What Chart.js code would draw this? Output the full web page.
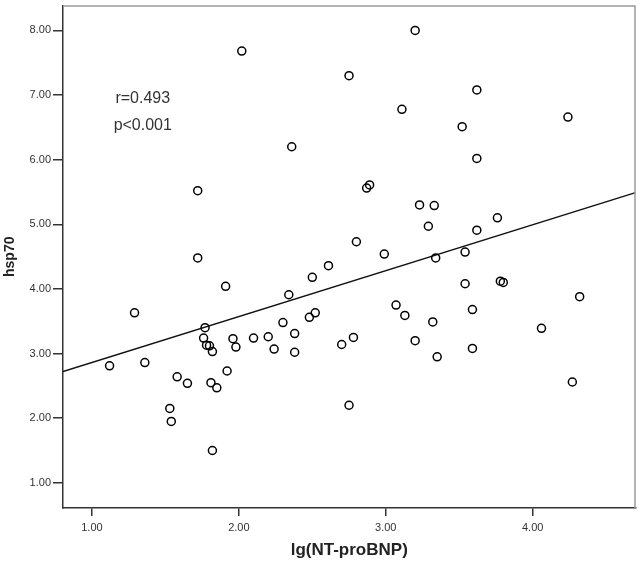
<!DOCTYPE html>
<html>
<head>
<meta charset="utf-8">
<script src="https://cdn.jsdelivr.net/npm/chart.js@4/dist/chart.umd.min.js"></script>
<style>
  body { margin: 0; background: #fff; }
</style>
</head>
<body>
<canvas id="scatter" width="641" height="566"></canvas>
<script>
// Datos
const ntProBnp = [2.02,2.36,1.72,1.72,2.50,3.20,2.75,3.62,3.11,4.24,3.52,3.62,2.87,2.89,3.23,3.33,3.29,3.76,2.80,3.62,
  2.99,3.34,3.54,2.61,3.54,3.78,3.80,2.52,4.32,3.07,3.13,3.59,3.32,4.06,2.78,2.70,3.20,3.59,3.35,4.27,
  2.75,1.29,1.12,1.36,1.91,1.77,1.76,1.78,1.80,1.82,1.96,1.98,2.10,2.20,2.24,2.30,2.34,2.38,2.38,2.48,
  1.58,1.65,1.92,1.81,1.85,1.53,1.54,1.82];
const hsp70 = [7.68,6.20,5.52,4.48,4.18,8.00,7.30,7.08,6.78,6.66,6.51,6.02,5.56,5.61,5.30,5.29,4.97,5.10,4.73,4.91,
  4.54,4.48,4.57,4.36,4.08,4.12,4.10,3.63,3.88,3.75,3.59,3.68,3.49,3.39,3.25,3.14,3.20,3.08,2.95,2.56,
  2.20,3.63,2.81,2.86,4.04,3.40,3.24,3.13,3.12,3.03,3.23,3.10,3.24,3.26,3.07,3.48,3.91,3.31,3.02,3.56,
  2.64,2.54,2.73,2.55,2.47,2.15,1.95,1.50];
// recta de ajuste (extremos leídos)
const fitX = [0.803, 4.70];
const fitY = [2.72, 5.49];
const xTicks = [1, 2, 3, 4];
const yTicks = [1, 2, 3, 4, 5, 6, 7, 8];
const statsText = ['r=0.493', 'p<0.001'];

const family = 'Arial, "Liberation Sans", sans-serif';

const framePlugin = {
  id: 'frame',
  afterDatasetsDraw(chart) {
    const { ctx, chartArea: a, scales: { x, y } } = chart;
    ctx.save();
    ctx.strokeStyle = '#9a9a9a';
    ctx.lineWidth = 1.5;
    ctx.beginPath();
    ctx.moveTo(a.left, a.top + 0.5);
    ctx.lineTo(a.right - 0.5, a.top + 0.5);
    ctx.lineTo(a.right - 0.5, a.bottom);
    ctx.stroke();
    ctx.fillStyle = '#333';
    ctx.font = '16px ' + family;
    ctx.textAlign = 'center';
    ctx.textBaseline = 'middle';
    ctx.fillText(statsText[0], x.getPixelForValue(1.346), y.getPixelForValue(6.94));
    ctx.fillText(statsText[1], x.getPixelForValue(1.346), y.getPixelForValue(6.53));
    ctx.restore();
  }
};

new Chart(document.getElementById('scatter').getContext('2d'), {
  type: 'scatter',
  data: {
    datasets: [
      {
        data: ntProBnp.map((v, i) => ({ x: v, y: hsp70[i] })),
        pointRadius: 4, pointHoverRadius: 4, pointBorderWidth: 1.5,
        borderColor: '#000', backgroundColor: 'rgba(0,0,0,0)'
      },
      {
        data: fitX.map((v, i) => ({ x: v, y: fitY[i] })),
        showLine: true, pointRadius: 0, borderColor: '#111', borderWidth: 1.5, fill: false
      }
    ]
  },
  options: {
    responsive: false,
    animation: false,
    devicePixelRatio: 1,
    layout: { padding: { top: 4, right: 4, left: 0, bottom: 0 } },
    plugins: { legend: { display: false }, tooltip: { enabled: false } },
    scales: {
      x: {
        type: 'linear', min: 0.803, max: 4.70,
        afterBuildTicks: s => { s.ticks = xTicks.map(v => ({ value: v })); },
        afterFit: s => { s.height = 58; s.paddingLeft = 0; s.paddingRight = 0; },
        grid: { drawOnChartArea: false, drawTicks: true, tickLength: 8, tickColor: '#333', lineWidth: 1.5 },
        border: { display: true, color: '#333', width: 1.5 },
        ticks: { padding: 5, color: '#333', maxRotation: 0, font: { size: 11, family }, callback: v => Number(v).toFixed(2) },
        title: { display: true, text: 'lg(NT-proBNP)', color: '#222', font: { size: 17, weight: 'bold', family }, padding: { top: 0, bottom: 5 } }
      },
      y: {
        type: 'linear', min: 0.61, max: 8.386,
        afterBuildTicks: s => { s.ticks = yTicks.map(v => ({ value: v })); },
        afterFit: s => { s.width = 63; s.paddingTop = 0; s.paddingBottom = 0; },
        grid: { drawOnChartArea: false, drawTicks: true, tickLength: 10, tickColor: '#333', lineWidth: 1.5 },
        border: { display: true, color: '#333', width: 1.5 },
        ticks: { padding: 2, color: '#333', font: { size: 11, family }, callback: v => Number(v).toFixed(2) },
        title: { display: true, text: 'hsp70', color: '#222', font: { size: 14, weight: 'bold', family }, padding: { top: 2, bottom: 0 } }
      }
    }
  },
  plugins: [framePlugin]
});
</script>
</body>
</html>
